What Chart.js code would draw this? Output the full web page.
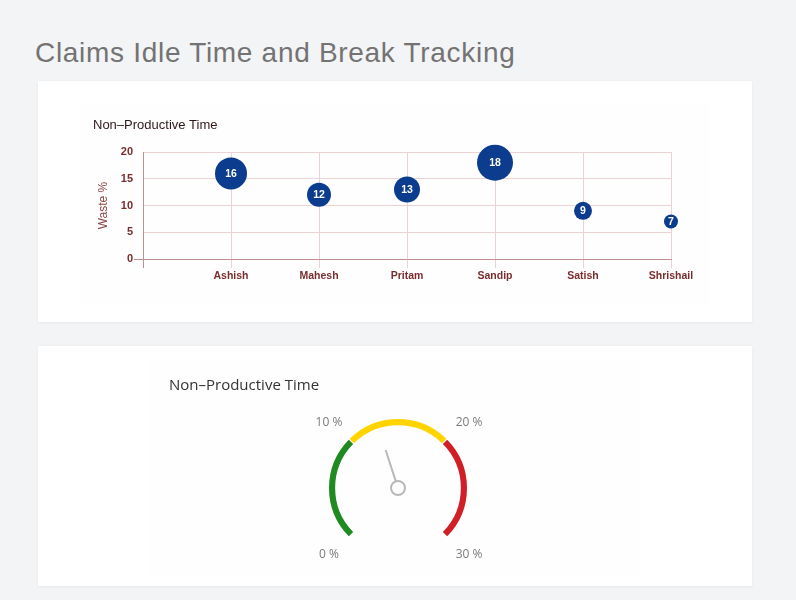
<!DOCTYPE html>
<html>
<head>
<meta charset="utf-8">
<script src="https://cdn.jsdelivr.net/npm/chart.js@4.4.0/dist/chart.umd.min.js"></script>
<style>
  body { margin:0; width:796px; height:600px; background:#f3f4f6; position:relative; overflow:hidden; font-family:"Liberation Sans", Arial, sans-serif; }
  h1 { position:absolute; left:35px; top:39px; margin:0; font-weight:normal; font-size:28px; line-height:28px; letter-spacing:0.7px; color:#737373; white-space:nowrap; }
  .card { position:absolute; left:38px; width:714px; background:#fff; box-shadow:0 1px 3px rgba(0,0,0,0.05); }
  .inner { position:absolute; background:#fefefe; }
  canvas { display:block; }
</style>
</head>
<body>
<h1>Claims Idle Time and Break Tracking</h1>
<div class="card" style="top:81px;height:241px;">
  <div class="inner" style="left:42px;top:22px;width:630px;height:202px;">
    <canvas id="wasteChart" width="630" height="202"></canvas>
  </div>
</div>
<div class="card" style="top:346px;height:240px;">
  <div class="inner" style="left:112px;top:13px;width:490px;height:216px;">
    <canvas id="gaugeChart" width="490" height="216"></canvas>
  </div>
</div>
<script>
// bubble chart data
const people = ['Ashish', 'Mahesh', 'Pritam', 'Sandip', 'Satish', 'Shrishail'];
const wastePct = [16, 12, 13, 18, 9, 7];
const yTicks = [0, 5, 10, 15, 20];

// gauge data
const gaugeBands = [10, 10, 10];
const gaugeColors = ['#1f8a1f', '#ffd400', '#d11f27'];
const gaugeTickLabels = ['0 %', '10 %', '20 %', '30 %'];
const needleValue = 13;

const arial = "'Liberation Sans', Arial, sans-serif";
const gridPink = '#ecd3d3';
const axisBrown = '#bd9090';

const bubbleLabels = {
    id: 'bubbleLabels',
    afterDatasetsDraw(chart) {
        const ctx = chart.ctx;
        const meta = chart.getDatasetMeta(0);
        ctx.save();
        ctx.fillStyle = '#ffffff';
        ctx.font = 'bold 10.5px ' + arial;
        ctx.textAlign = 'center';
        ctx.textBaseline = 'middle';
        meta.data.forEach((el, i) => {
            ctx.fillText(String(wastePct[i]), el.x, el.y + 0.5);
        });
        ctx.restore();
    }
};

new Chart(document.getElementById('wasteChart'), {
    type: 'bubble',
    data: {
        datasets: [{
            data: people.map((p, i) => ({ x: i + 1, y: wastePct[i], r: wastePct[i] })),
            backgroundColor: '#0b3c8e',
            borderWidth: 0,
            clip: false
        }]
    },
    options: {
        responsive: false,
        animation: false,
        layout: { padding: { left: 13, right: 39, top: 0, bottom: 0 } },
        plugins: {
            legend: { display: false },
            tooltip: { enabled: false },
            title: {
                display: true,
                text: 'Non–Productive Time',
                align: 'start',
                color: '#2e1a1a',
                font: { family: arial, size: 13, weight: 'normal' },
                padding: { top: 14.5, bottom: 18.9 }
            }
        },
        scales: {
            x: {
                type: 'linear',
                min: 0,
                max: people.length,
                ticks: {
                    stepSize: 1,
                    autoSkip: false,
                    maxRotation: 0,
                    color: '#7a2d2d',
                    font: { family: arial, size: 10.5, weight: 'bold' },
                    padding: 2,
                    callback: v => people[v - 1] || ''
                },
                grid: {
                    color: gridPink,
                    tickLength: 9,
                    tickColor: ctx => (ctx.tick && ctx.tick.value === 0) ? axisBrown : gridPink
                },
                border: { color: axisBrown },
                afterFit: s => { s.height = 46; s.paddingLeft = 0; s.paddingRight = 0; }
            },
            y: {
                min: 0,
                max: 20,
                afterBuildTicks: s => { s.ticks = yTicks.map(v => ({ value: v })); },
                ticks: {
                    color: '#7a2d2d',
                    font: { family: arial, size: 11, weight: 'bold' },
                    padding: 1
                },
                grid: {
                    color: gridPink,
                    tickLength: 9,
                    tickColor: ctx => (ctx.tick && ctx.tick.value === 0) ? axisBrown : 'rgba(0,0,0,0)'
                },
                border: { color: axisBrown },
                title: {
                    display: true,
                    text: 'Waste %',
                    color: '#8a4646',
                    font: { family: arial, size: 12 },
                    padding: { top: 3.5, bottom: 0 }
                },
                afterFit: s => { s.width = 50; s.paddingTop = 0; s.paddingBottom = 0; }
            }
        }
    },
    plugins: [bubbleLabels]
});

const gaugeOverlay = {
    id: 'gaugeOverlay',
    afterDatasetsDraw(chart) {
        const arcs = chart.getDatasetMeta(0).data;
        const first = arcs[0], last = arcs[arcs.length - 1];
        const cx = first.x, cy = first.y, R = first.outerRadius;
        const a0 = first.startAngle, a1 = last.endAngle;
        const total = gaugeBands.reduce((a, b) => a + b, 0);
        const ctx = chart.ctx;
        ctx.save();
        // band limit labels
        ctx.font = "12px 'Open Sans', sans-serif";
        ctx.fillStyle = '#7a7a7a';
        ctx.textAlign = 'center';
        ctx.textBaseline = 'middle';
        let acc = 0;
        gaugeTickLabels.forEach((t, i) => {
            const a = a0 + (acc / total) * (a1 - a0);
            const side = Math.cos(a) > 0 ? 3 : -1;
            const lift = Math.sin(a) > 0 ? -1.5 : 2.5;
            ctx.fillText(t, cx + Math.cos(a) * R * 1.41 + side, cy + Math.sin(a) * R * 1.41 + lift);
            acc += gaugeBands[i] || 0;
        });
        // needle
        const na = a0 + (needleValue / total) * (a1 - a0);
        const hub = 7, len = 40;
        ctx.strokeStyle = '#b9b9b9';
        ctx.lineWidth = 2;
        ctx.beginPath();
        ctx.moveTo(cx + Math.cos(na) * hub, cy + Math.sin(na) * hub);
        ctx.lineTo(cx + Math.cos(na) * len, cy + Math.sin(na) * len);
        ctx.stroke();
        ctx.beginPath();
        ctx.arc(cx, cy, hub, 0, Math.PI * 2);
        ctx.fillStyle = '#ffffff';
        ctx.fill();
        ctx.stroke();
        ctx.restore();
    }
};

new Chart(document.getElementById('gaugeChart'), {
    type: 'doughnut',
    data: {
        labels: ['Low', 'Medium', 'High'],
        datasets: [{
            data: gaugeBands,
            backgroundColor: gaugeColors,
            borderWidth: 0,
            spacing: 1.5
        }]
    },
    options: {
        responsive: false,
        animation: false,
        rotation: -135,
        circumference: 270,
        cutout: '91%',
        layout: { padding: { left: 19, right: 13, top: 0, bottom: 38 } },
        plugins: {
            legend: { display: false },
            tooltip: { enabled: false },
            title: {
                display: true,
                text: 'Non–Productive Time',
                align: 'start',
                color: '#333333',
                font: { family: "'Open Sans', sans-serif", size: 15, weight: 'normal' },
                padding: { top: 18, bottom: 24 }
            }
        }
    },
    plugins: [gaugeOverlay]
});
</script>
</body>
</html>
